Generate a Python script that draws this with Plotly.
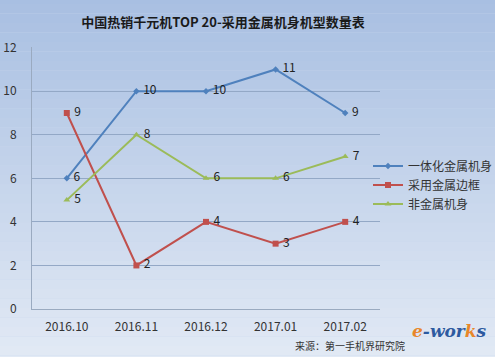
import plotly.graph_objects as go

categories = ["2016.10", "2016.11", "2016.12", "2017.01", "2017.02"]
s_integrated = [6, 10, 10, 11, 9]
s_frame = [9, 2, 4, 3, 4]
s_nonmetal = [5, 8, 6, 6, 7]
names = ["一体化金属机身", "采用金属边框", "非金属机身"]
y_ticks = [0, 2, 4, 6, 8, 10, 12]

W, H = 495, 357
FONT = "Noto Sans CJK SC"
PL, PR, PT, PB = 32, 380, 47, 309
PW, PH = PR - PL, PB - PT

fig = go.Figure()
specs = [
    (s_integrated, names[0], "#4F81BD", "diamond", 5),
    (s_frame, names[1], "#C0504D", "square", 6),
    (s_nonmetal, names[2], "#9BBB59", "triangle-up", 6),
]
for vals, nm, col, sym, sz in specs:
    fig.add_trace(go.Scatter(
        x=categories, y=vals, name=nm, mode="lines+markers+text",
        texttemplate=" %{y}", textposition="middle right",
        textfont=dict(family=FONT, size=12, color="#222222"),
        line=dict(color=col, width=2),
        marker=dict(color=col, symbol=sym, size=sz),
        cliponaxis=False,
    ))

# background gradient bands
def lerp(a, b, t):
    return tuple(round(a[i] + (b[i] - a[i]) * t) for i in range(3))
top = (168, 191, 226)
bot = (228, 235, 245)
n = 40
shapes = []
for i in range(n):
    c = lerp(top, bot, i / (n - 1))
    shapes.append(dict(type="rect", xref="paper", yref="paper",
                       x0=-0.2, x1=1.45, y0=1.2 - (i + 1) * 1.45 / n, y1=1.2 - i * 1.45 / n,
                       fillcolor="rgb(%d,%d,%d)" % c, line=dict(width=0), layer="below"))

fig.update_layout(
    width=W, height=H,
    margin=dict(l=PL, r=W - PR, t=PT, b=H - PB, autoexpand=False),
    paper_bgcolor="rgb(200,214,236)",
    plot_bgcolor="rgba(0,0,0,0)",
    shapes=shapes,
    showlegend=True,
    legend=dict(x=(368 - PL) / PW, y=(PB - 185) / PH, xanchor="left", yanchor="middle",
                bgcolor="rgba(0,0,0,0)", font=dict(family=FONT, size=12, color="#333333"),
                itemwidth=30, tracegroupgap=0),
    title=dict(text="<b>中国热销千元机TOP 20-采用金属机身机型数量表</b>",
               x=223 / W, xanchor="center", y=1 - 22 / H, yanchor="middle",
               font=dict(family=FONT, size=13, color="#1a1a1a")),
    font=dict(family=FONT, size=11, color="#222222"),
    xaxis=dict(type="category", range=[-0.5, 4.5], showgrid=False, showline=True,
               linecolor="#9aaac0", ticks="",
               tickfont=dict(family=FONT, size=12, color="#333333"), zeroline=False,
               ticklabelstandoff=7),
    yaxis=dict(range=[0, 12.03], tickvals=y_ticks, showgrid=True,
               gridcolor="#93a8c6", gridwidth=1, showline=True, linecolor="#9aaac0",
               zeroline=False, ticks="", ticklabelstandoff=12,
               tickfont=dict(family=FONT, size=12, color="#333333")),
    annotations=[
        dict(text="来源：第一手机界研究院", xref="paper", yref="paper",
             x=(350 - PL) / PW, y=-(345 - PB) / PH, xanchor="center", yanchor="middle",
             showarrow=False, font=dict(family=FONT, size=10, color="#333333")),
        dict(text="<i><b><span style='color:#E8862A'>e</span>-wor<span style='color:#E8862A'>k</span>s</b></i>",
             xref="paper", yref="paper", x=(449 - PL) / PW, y=-(331 - PB) / PH,
             xanchor="center", yanchor="middle", showarrow=False,
             font=dict(family="DejaVu Serif", size=17, color="#2d5aa0")),
    ],
)
fig.write_html("out.html", config={"displayModeBar": False},
               post_script="document.body.style.margin='0px';document.body.style.overflow='hidden';")
